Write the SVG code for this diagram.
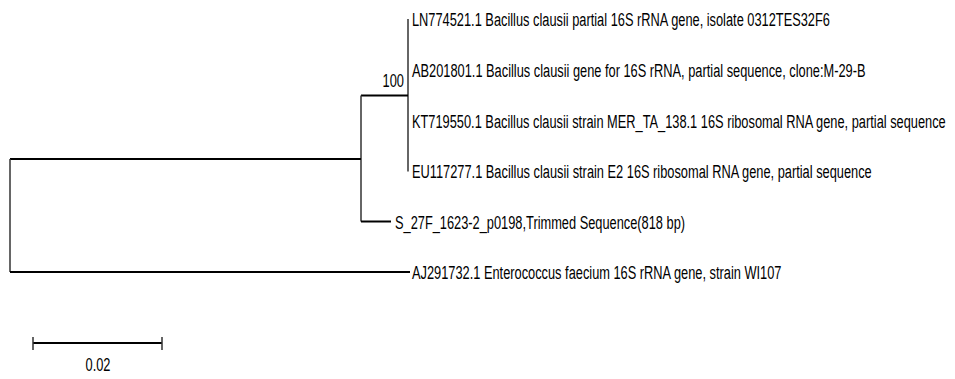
<svg xmlns="http://www.w3.org/2000/svg" width="955" height="379" viewBox="0 0 955 379">
<style>
.h{stroke:#000;stroke-width:2;fill:none;stroke-linecap:butt}
.v{stroke:#333;stroke-width:1.5;fill:none}
text{font-family:"Liberation Sans",Arial,sans-serif;font-size:19px;fill:#000}
</style>
<rect width="955" height="379" fill="#fff"/>
<g id="connectors">
<path class="v" d="M408,19V171.5"/>
<path class="h" d="M361,95.5H408"/>
<path class="v" d="M361,95.5V221.5"/>
<path class="h" d="M361,221.5H391"/>
<path class="h" d="M10,159H361"/>
<path class="v" d="M10,159V272"/>
<path class="h" d="M10,272H410"/>
</g>
<g id="n100"><text transform="translate(404,87) scale(0.675,1)" text-anchor="end">100</text></g>
<g id="LN774521"><text transform="translate(412,26) scale(0.675,1)">LN774521.1 Bacillus clausii partial 16S rRNA gene, isolate 0312TES32F6</text></g>
<g id="AB201801"><text transform="translate(412,77) scale(0.675,1)">AB201801.1 Bacillus clausii gene for 16S rRNA, partial sequence, clone:M-29-B</text></g>
<g id="KT719550"><text transform="translate(412,128) scale(0.675,1)">KT719550.1 Bacillus clausii strain MER_TA_138.1 16S ribosomal RNA gene, partial sequence</text></g>
<g id="EU117277"><text transform="translate(412,178) scale(0.675,1)">EU117277.1 Bacillus clausii strain E2 16S ribosomal RNA gene, partial sequence</text></g>
<g id="S27F"><text transform="translate(395,229) scale(0.675,1)">S_27F_1623-2_p0198,Trimmed Sequence(818 bp)</text></g>
<g id="AJ291732"><text transform="translate(412,279) scale(0.675,1)">AJ291732.1 Enterococcus faecium 16S rRNA gene, strain WI107</text></g>
<g id="scalebar">
<path class="h" d="M33,343H162"/>
<path class="v" d="M33,337V350M162,337V350"/>
<text transform="translate(98,371) scale(0.675,1)" text-anchor="middle">0.02</text>
</g>
</svg>
